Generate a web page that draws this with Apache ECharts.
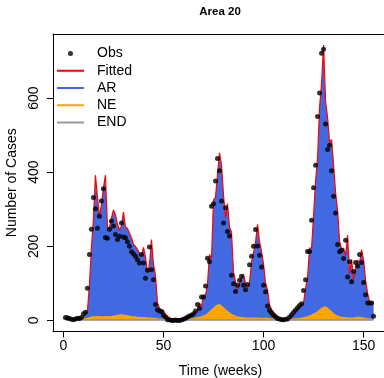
<!DOCTYPE html>
<html>
<head>
<meta charset="utf-8">
<script src="https://cdn.jsdelivr.net/npm/echarts@6/dist/echarts.min.js"></script>
<style>html,body{margin:0;padding:0;background:#fff}#c{width:384px;height:378px}</style>
</head>
<body>
<div id="c"></div>
<script>
// Weekly observed counts, weeks 1..155
const obs = [
  8,7,5,3,2,4,6,5,8,18,
  22,87,178,246,332,301,249,281,322,355,
  224,222,246,268,255,232,218,227,263,225,
  223,212,200,185,180,173,164,155,178,155,
  114,135,198,137,110,43,29,25,24,14,
  9,2,2,0,0,1,0,0,1,3,
  6,9,12,14,18,25,43,32,63,63,
  93,168,158,308,315,376,437,404,322,263,
  304,240,228,122,99,78,95,108,119,95,
  83,97,150,173,200,245,201,176,144,95,
  77,39,27,20,14,9,5,4,2,2,
  3,4,9,15,22,28,34,40,45,81,
  110,186,186,270,358,419,550,614,721,732,
  530,461,473,404,335,290,205,185,189,167,
  216,117,158,104,132,156,147,178,156,102,
  69,47,47,47,11
];
// Fitted mean (top of the stacked components)
const fitted = [
  7,8,8,6,5,5,6,7,6,9,
  20,25,95,196,273,392,335,280,312,358,
  392,252,250,275,298,285,260,244,254,292,
  252,248,236,223,206,200,192,182,172,197,
  172,128,150,218,152,122,48,33,28,27,
  16,11,6,5,5,5,5,5,5,6,
  7,9,12,15,18,21,29,47,38,68,
  68,98,178,167,325,332,392,452,420,338,
  278,315,252,238,130,106,84,100,113,124,
  100,88,102,157,182,210,259,212,186,152,
  101,82,42,30,22,16,11,7,6,5,
  5,5,6,11,17,24,30,36,42,48,
  86,116,195,195,282,375,438,575,640,743,
  590,548,480,488,420,345,298,213,192,195,
  175,230,125,165,110,140,163,155,191,163,
  108,73,50,50,49
];
// Endemic component
const endemic = [
  4,4,4,4,4,4,4,4,4,4,
  4,4,4,4,3,3,3,3,3,3,
  3,3,3,3,3,3,3,3,3,3,
  3,3,3,3,3,3,3,3,3,3,
  3,3,3,3,3,3,3,3,3,3,
  4,4,4,4,4,4,4,4,4,4,
  4,4,4,4,4,4,4,4,4,4,
  3,3,3,3,3,3,3,3,3,3,
  3,3,3,3,3,3,3,3,3,3,
  3,3,3,3,3,3,3,3,3,3,
  4,4,4,4,4,4,4,4,4,4,
  4,4,4,4,4,4,4,4,4,4,
  4,4,4,4,4,3,3,3,3,3,
  3,3,3,3,3,3,3,3,3,3,
  3,3,3,3,3,3,3,3,3,3,
  3,3,3,3,3
];
// Neighbourhood (NE) component
const ne = [
  1,1,1,1,1,1,1,1,1,2,
  2,3,5,7,8,9,9,8,8,8,
  9,9,8,9,10,11,12,13,14,13,
  12,11,10,9,8,8,7,7,6,6,
  6,5,5,5,4,4,3,2,2,2,
  1,1,1,1,1,1,1,1,1,1,
  1,2,2,3,3,4,5,6,8,10,
  13,17,22,27,32,37,40,41,38,33,
  28,23,19,15,12,10,8,7,6,6,
  5,5,5,5,5,5,5,4,4,4,
  3,3,2,2,2,1,1,1,1,1,
  1,1,1,1,1,2,2,3,4,5,
  6,8,10,12,15,18,22,27,31,34,
  35,32,27,22,17,13,10,8,7,6,
  6,5,5,5,5,6,7,7,6,5,
  4,3,2,2,2
];
const xTicks = [0, 50, 100, 150];
const yTicks = [0, 200, 400, 600];
const title = 'Area 20';
const legendNames = ['Obs', 'Fitted', 'AR', 'NE', 'END'];

// rows as [value, week] so the value column is the first numeric dimension (stacked one)
const rows = arr => arr.map((v, i) => [v, i + 1]);
const FONT = 'Liberation Sans, Arial, Helvetica, sans-serif';
const LINE_ICON = 'path://M0 0H27V2H0Z';
const XMIN = -5.2, XMAX = 162.2;

const chart = echarts.init(document.getElementById('c'), null, {renderer: 'canvas'});
chart.setOption({
  animation: false,
  backgroundColor: '#fff',
  textStyle: {fontFamily: FONT, color: '#000'},
  title: {
    text: title, left: 220, top: 6, textAlign: 'center', padding: 0,
    textStyle: {fontSize: 11.5, fontWeight: 'bold', color: '#000', fontFamily: FONT}
  },
  legend: {
    orient: 'vertical', left: 57, top: 45.5, padding: 0,
    itemWidth: 27, itemHeight: 5, itemGap: 1.25,
    data: legendNames.map(n => ({name: n, icon: n === 'Obs' ? 'circle' : LINE_ICON})),
    textStyle: {fontSize: 14, color: '#000', fontFamily: FONT, lineHeight: 16, padding: [0, 0, 0, 8]}
  },
  grid: {left: 53, width: 335, top: 34, bottom: 46.5, show: false,
         containLabel: false, outerBoundsMode: 'none'},
  xAxis: [
    {
      type: 'value', min: XMIN, max: XMAX, position: 'bottom',
      axisLine: {show: true, onZero: false, lineStyle: {color: '#000', width: 1}}, splitLine: {show: false},
      axisTick: {show: true, customValues: xTicks, length: 6, lineStyle: {color: '#000'}},
      axisLabel: {customValues: xTicks, fontSize: 14, color: '#000', margin: 8, fontFamily: FONT},
      name: 'Time (weeks)', nameLocation: 'middle', nameGap: 33,
      nameTextStyle: {fontSize: 14, color: '#000', fontFamily: FONT}
    },
    {
      type: 'value', min: XMIN, max: XMAX, position: 'top',
      axisLine: {show: true, onZero: false, lineStyle: {color: '#000', width: 1}}, splitLine: {show: false},
      axisTick: {show: false}, axisLabel: {show: false}
    }
  ],
  yAxis: {
    type: 'value', min: -30, max: 773,
    axisLine: {show: true, onZero: false, lineStyle: {color: '#000', width: 1}}, splitLine: {show: false},
    axisTick: {show: true, customValues: yTicks, length: 6, lineStyle: {color: '#000'}},
    axisLabel: {customValues: yTicks, fontSize: 14, color: '#000', margin: 12, rotate: 90, fontFamily: FONT},
    name: 'Number of Cases', nameLocation: 'middle', nameGap: 31,
    nameTextStyle: {fontSize: 14, color: '#000', fontFamily: FONT}
  },
  series: [
    {
      name: 'AR', type: 'line', data: rows(fitted), encode: {x: 1, y: 0}, symbol: 'none',
      lineStyle: {width: 0, color: '#4169E1'}, itemStyle: {color: '#4169E1'},
      areaStyle: {color: '#4169E1', opacity: 1}, z: 1
    },
    {
      name: 'END', type: 'line', stack: 'comp', data: rows(endemic), encode: {x: 1, y: 0}, symbol: 'none',
      lineStyle: {width: 0, color: '#999999'}, itemStyle: {color: '#999999'},
      areaStyle: {color: '#999999', opacity: 1}, z: 2
    },
    {
      name: 'NE', type: 'line', stack: 'comp', data: rows(ne), encode: {x: 1, y: 0}, symbol: 'none',
      lineStyle: {width: 0, color: '#FFA500'}, itemStyle: {color: '#FFA500'},
      areaStyle: {color: '#FFA500', opacity: 1}, z: 2
    },
    {
      name: 'Fitted', type: 'line', data: rows(fitted), encode: {x: 1, y: 0}, symbol: 'none',
      lineStyle: {width: 1.2, color: '#FF0000'}, itemStyle: {color: '#FF0000'}, z: 3
    },
    {
      name: 'Obs', type: 'scatter', data: rows(obs), encode: {x: 1, y: 0}, symbol: 'circle', symbolSize: 5,
      itemStyle: {color: '#000'}, z: 4
    }
  ]
});
</script>
</body>
</html>
